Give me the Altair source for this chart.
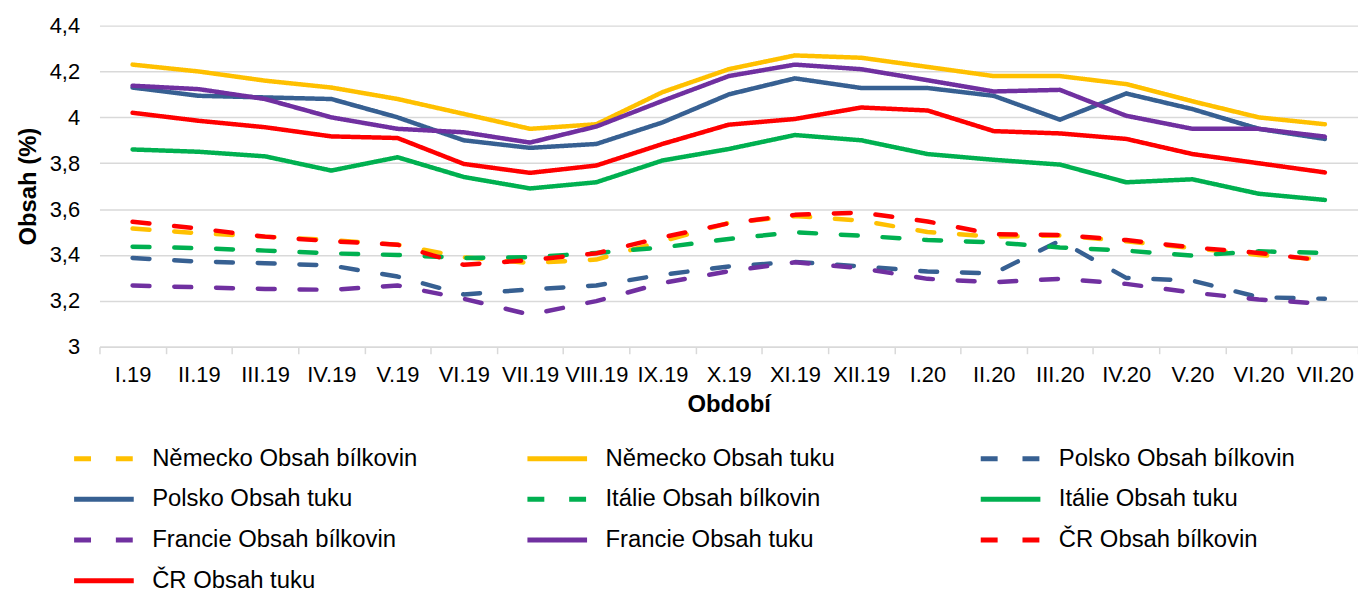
import altair as alt
import pandas as pd

obdobi = ["I.19", "II.19", "III.19", "IV.19", "V.19", "VI.19", "VII.19", "VIII.19", "IX.19",
          "X.19", "XI.19", "XII.19", "I.20", "II.20", "III.20", "IV.20", "V.20", "VI.20", "VII.20"]

nemecko_bilkovin = [3.515, 3.495, 3.48, 3.465, 3.445, 3.39, 3.365, 3.38, 3.46, 3.54, 3.57, 3.55,
                    3.50, 3.48, 3.485, 3.46, 3.43, 3.40, 3.38]
nemecko_tuk = [4.23, 4.20, 4.16, 4.13, 4.08, 4.015, 3.95, 3.97, 4.11, 4.21, 4.27, 4.26,
               4.22, 4.18, 4.18, 4.145, 4.07, 4.00, 3.97]
polsko_bilkovin = [3.387, 3.371, 3.364, 3.354, 3.306, 3.228, 3.25, 3.267, 3.314, 3.35, 3.37, 3.35,
                   3.328, 3.32, 3.462, 3.30, 3.288, 3.216, 3.209]
polsko_tuk = [4.13, 4.094, 4.087, 4.08, 4.00, 3.90, 3.867, 3.884, 3.978, 4.10, 4.17, 4.128,
              4.128, 4.094, 3.99, 4.104, 4.036, 3.95, 3.906]
italie_bilkovin = [3.436, 3.43, 3.419, 3.407, 3.40, 3.387, 3.39, 3.409, 3.433, 3.47, 3.499, 3.484,
                   3.465, 3.455, 3.433, 3.419, 3.397, 3.416, 3.409]
italie_tuk = [3.86, 3.85, 3.83, 3.768, 3.826, 3.74, 3.69, 3.717, 3.812, 3.862, 3.923, 3.90,
              3.84, 3.815, 3.794, 3.717, 3.73, 3.667, 3.64]
francie_bilkovin = [3.267, 3.259, 3.252, 3.248, 3.267, 3.209, 3.14, 3.199, 3.278, 3.329, 3.368, 3.342,
                    3.296, 3.281, 3.296, 3.274, 3.236, 3.206, 3.187]
francie_tuk = [4.138, 4.123, 4.08, 4.0, 3.95, 3.935, 3.89, 3.96, 4.072, 4.18, 4.23, 4.21,
               4.162, 4.113, 4.12, 4.007, 3.95, 3.95, 3.916]
cr_bilkovin = [3.545, 3.515, 3.48, 3.46, 3.445, 3.357, 3.378, 3.407, 3.477, 3.538, 3.575, 3.585,
               3.546, 3.491, 3.487, 3.465, 3.433, 3.409, 3.375]
cr_tuk = [4.02, 3.985, 3.957, 3.917, 3.91, 3.797, 3.758, 3.79, 3.884, 3.968, 3.993, 4.043,
          4.03, 3.94, 3.93, 3.906, 3.84, 3.80, 3.76]

serie_nazvy = ["Německo Obsah bílkovin", "Německo Obsah tuku",
               "Polsko Obsah bílkovin", "Polsko Obsah tuku",
               "Itálie Obsah bílkovin", "Itálie Obsah tuku",
               "Francie Obsah bílkovin", "Francie Obsah tuku",
               "ČR Obsah bílkovin", "ČR Obsah tuku"]
serie_hodnoty = [nemecko_bilkovin, nemecko_tuk, polsko_bilkovin, polsko_tuk,
                 italie_bilkovin, italie_tuk, francie_bilkovin, francie_tuk,
                 cr_bilkovin, cr_tuk]
barvy = ["#FFC000", "#FFC000", "#376092", "#376092", "#00B050", "#00B050",
         "#7030A0", "#7030A0", "#FF0000", "#FF0000"]
carkovani = [[17, 25], [1, 0]] * 5

rows = []
for order, (name, vals) in enumerate(zip(serie_nazvy, serie_hodnoty)):
    for i, (m, v) in enumerate(zip(obdobi, vals)):
        rows.append({"serie": name, "obdobi": m, "idx": i, "hodnota": v, "poradi": order})
df = pd.DataFrame(rows)

legenda = alt.Legend(title=None, orient="none", legendX=-13, legendY=418,
                     direction="horizontal", columns=3, gridAlign="all", columnPadding=100,
                     rowPadding=11, symbolType="M-2,0H2", symbolSize=900,
                     symbolStrokeWidth=5, labelFontSize=24, labelOffset=31,
                     labelLimit=500, labelColor="#000000")

chart = alt.Chart(df).mark_line(strokeWidth=4.5, strokeCap="round", strokeJoin="round").encode(
    x=alt.X("obdobi:N", sort=obdobi, title="Období",
            scale=alt.Scale(type="band", paddingInner=0, paddingOuter=0),
            axis=alt.Axis(labelAngle=0, tickBand="extent", tickSize=7, labelPadding=11,
                          titlePadding=7, domainColor="#d9d9d9", tickColor="#d9d9d9",
                          domainWidth=1.5, tickWidth=1.5, grid=False)),
    y=alt.Y("hodnota:Q", title="Obsah (%)",
            scale=alt.Scale(domain=[3, 4.4], nice=False, zero=False),
            axis=alt.Axis(values=[3, 3.2, 3.4, 3.6, 3.8, 4.0, 4.2, 4.4],
                          labelExpr="replace(format(datum.value, '.1~f'), '.', ',')",
                          ticks=False, domain=False, labelPadding=20, titlePadding=9,
                          gridColor="#d9d9d9", gridWidth=1.5)),
    color=alt.Color("serie:N", sort=serie_nazvy,
                    scale=alt.Scale(domain=serie_nazvy, range=barvy),
                    legend=legenda),
    strokeDash=alt.StrokeDash("serie:N", sort=serie_nazvy,
                              scale=alt.Scale(domain=serie_nazvy, range=carkovani),
                              legend=legenda),
    order=alt.Order("poradi:Q"),
    detail="serie:N",
).properties(
    width=1266, height=323,
    autosize=alt.AutoSizeParams(type="none"),
    padding={"left": 92, "top": 16, "right": 0, "bottom": 245},
).configure(
    font="Liberation Sans",
).configure_axis(
    labelFontSize=22, labelColor="#000000", titleFontSize=24, titleFontWeight="bold",
    titleColor="#000000",
).configure_view(stroke=None)

chart.save("out.html", embed_options={"renderer": "svg", "actions": False})
